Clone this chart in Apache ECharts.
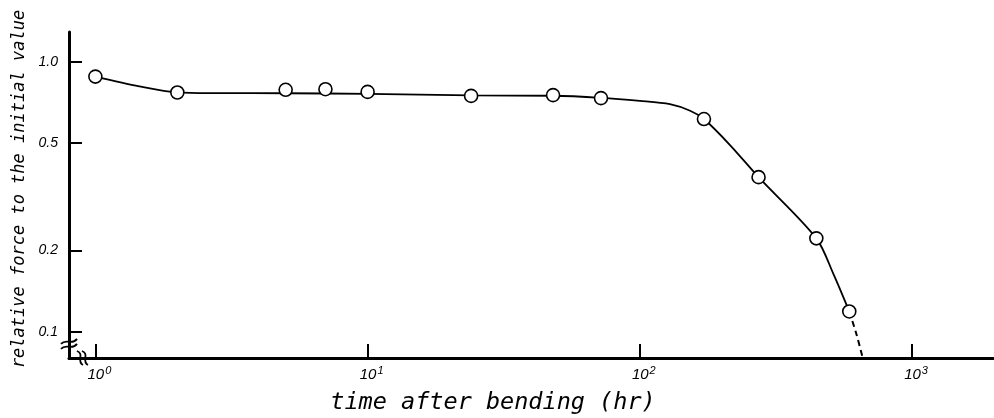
<!DOCTYPE html>
<html>
<head>
<meta charset="utf-8">
<script src="https://cdn.jsdelivr.net/npm/echarts@6/dist/echarts.min.js"></script>
<style>
  html, body { margin: 0; padding: 0; background: #fff; }
  #chart { width: 994px; height: 418px; }
</style>
</head>
<body>
<div id="chart"></div>
<script>
// Measured points: time after bending (hr) vs. relative force
const pointHours = [1, 2, 5, 7, 10, 24, 48, 72, 172, 273, 445, 588];
const pointForce = [0.882, 0.770, 0.788, 0.792, 0.774, 0.748, 0.753, 0.734, 0.614, 0.374, 0.222, 0.119];

// Hand-drawn trend curve (solid part)
const curveHours = [1, 1.45, 2, 2.8, 5, 10, 24, 48, 72, 100, 129, 153, 172, 214, 273, 445, 514, 588];
const curveForce = [0.882, 0.812, 0.771, 0.766, 0.765, 0.761, 0.751, 0.749, 0.736, 0.717, 0.697, 0.659, 0.614, 0.493, 0.374, 0.222, 0.164, 0.119];

// Extrapolated (dashed) tail of the curve
const tailHours = [588, 626, 659];
const tailForce = [0.119, 0.0974, 0.080];

// Axis ticks
const yTicks = [0.1, 0.2, 0.5, 1.0];
const xTicks = [1, 10, 100, 1000];

const zip = (a, b) => a.map((v, i) => [v, b[i]]);

const chart = echarts.init(document.getElementById('chart'), null, { renderer: 'canvas' });

const labelFont = 'Liberation Sans';
const titleFont = 'DejaVu Sans Mono';

chart.setOption({
  backgroundColor: '#ffffff',
  animation: false,
  grid: { left: 69, right: 0, top: 32, bottom: 60 },
  xAxis: {
    type: 'log',
    logBase: 10,
    min: 0.8,
    max: 2000,
    axisLine: { show: true, lineStyle: { color: '#000', width: 3 } },
    axisTick: {
      show: true, inside: true, length: 14,
      lineStyle: { color: '#000', width: 2 },
      customValues: xTicks
    },
    axisLabel: {
      show: true, margin: 7,
      customValues: xTicks,
      padding: [0, 0, 0, 8],
      formatter: v => '{b|10}{s|' + Math.round(Math.log10(v)) + '}',
      rich: {
        b: { fontFamily: labelFont, fontStyle: 'italic', fontSize: 15, color: '#000' },
        s: { fontFamily: labelFont, fontStyle: 'italic', fontSize: 11, color: '#000', padding: [0, 0, 8, 1] }
      }
    },
    splitLine: { show: false },
    minorTick: { show: false }
  },
  yAxis: {
    type: 'log',
    logBase: 10,
    min: 0.08,
    max: 1.29,
    axisLine: { show: true, lineStyle: { color: '#000', width: 3 } },
    axisTick: {
      show: true, inside: true, length: 13,
      lineStyle: { color: '#000', width: 2 },
      customValues: yTicks
    },
    axisLabel: {
      show: true, margin: 11,
      customValues: yTicks,
      formatter: v => v.toFixed(1),
      fontFamily: labelFont, fontStyle: 'italic', fontSize: 14, color: '#000'
    },
    splitLine: { show: false },
    minorTick: { show: false }
  },
  series: [
    {
      type: 'line',
      data: zip(curveHours, curveForce),
      smooth: 0.3,
      showSymbol: false,
      lineStyle: { color: '#000', width: 1.8 },
      z: 2
    },
    {
      type: 'line',
      data: zip(tailHours, tailForce),
      smooth: 0.3,
      showSymbol: false,
      lineStyle: { color: '#000', width: 2, type: [6, 4] },
      z: 2
    },
    {
      type: 'scatter',
      data: zip(pointHours, pointForce),
      symbol: 'circle',
      symbolSize: 13,
      itemStyle: { color: '#fff', borderColor: '#000', borderWidth: 1.6, opacity: 1 },
      z: 3
    }
  ]
});

// Axis titles and the broken-axis marks near the origin
function decorate() {
  const yb = chart.convertToPixel({ gridIndex: 0 }, [0.8, 0.091]);
  const xb = chart.convertToPixel({ gridIndex: 0 }, [0.885, 0.08]);
  const squiggle = (x1, y1, x2, y2, c1x, c1y, c2x, c2y) => ({
    type: 'bezierCurve',
    shape: { x1, y1, x2, y2, cpx1: c1x, cpy1: c1y, cpx2: c2x, cpy2: c2y },
    style: { stroke: '#000', lineWidth: 1.8, fill: null },
    z: 10
  });
  const yx = yb[0], yy = yb[1];
  const xx = xb[0], xy = xb[1];
  chart.setOption({
    graphic: [
      {
        type: 'text',
        x: 20, y: 189,
        rotation: Math.PI / 2,
        style: {
          text: 'relative force to the initial value',
          fontFamily: titleFont, fontStyle: 'italic', fontSize: 17,
          fill: '#000', align: 'center', verticalAlign: 'middle'
        }
      },
      {
        type: 'text',
        x: 493, y: 403,
        style: {
          text: 'time after bending (hr)',
          fontFamily: titleFont, fontStyle: 'italic', fontSize: 23.5,
          fill: '#000', align: 'center', verticalAlign: 'middle'
        }
      },
      squiggle(yx - 8, yy + 1, yx + 8, yy - 4, yx - 3, yy - 5, yx + 3, yy + 3),
      squiggle(yx - 8, yy + 6, yx + 8, yy + 1, yx - 3, yy + 0, yx + 3, yy + 8),
      squiggle(xx - 4, xy - 7, xx + 2, xy + 7, xx + 4, xy - 4, xx - 5, xy + 3),
      squiggle(xx + 1, xy - 7, xx + 7, xy + 7, xx + 9, xy - 4, xx + 0, xy + 3)
    ]
  });
}
decorate();
</script>
</body>
</html>
